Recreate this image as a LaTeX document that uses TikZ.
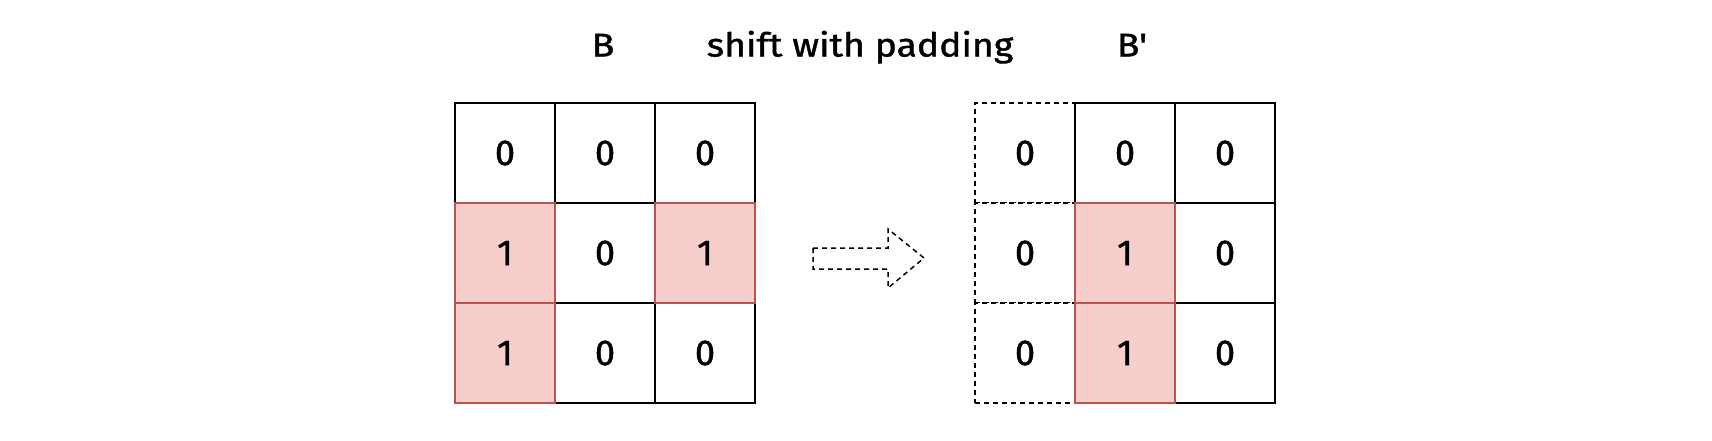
\documentclass[tikz,border=0pt]{standalone}
\usepackage{fontspec}
\setmainfont{Fira Sans}
\newfontfamily\titlefont[FakeStretch=1.13,FakeBold=1.2]{Fira Sans}
\newfontfamily\cellfont[FakeBold=1.2]{Fira Sans}
\definecolor{pinkfill}{HTML}{F8CECC}
\definecolor{reddraw}{HTML}{B85450}
\begin{document}
\begin{tikzpicture}[x=1pt,y=-1pt,
  cell/.style={draw=black,line width=1.5pt,minimum size=100pt,inner sep=0pt,font=\cellfont\fontsize{36}{38}\selectfont,anchor=center,fill=white},
  hot/.style={cell,draw=reddraw,fill=pinkfill},
  pad/.style={cell,dashed,dash pattern=on 5pt off 4pt},
  title/.style={font=\titlefont\fontsize{33}{36}\selectfont,inner sep=0pt,anchor=base}]
\useasboundingbox (0,0) rectangle (1712,440);
% left grid B
\node[cell] (a00) at (505,153) {0};
\node[cell] (a01) at (605,153) {0};
\node[cell] (a02) at (705,153) {0};
\node[cell] (a11) at (605,253) {0};
\node[cell] (a21) at (605,353) {0};
\node[cell] (a22) at (705,353) {0};
\node[hot] (a10) at (505,253) {1};
\node[hot] (a12) at (705,253) {1};
\node[hot] (a20) at (505,353) {1};
% right grid B'
\node[pad] (b00) at (1025,153) {0};
\node[pad] (b10) at (1025,253) {0};
\node[pad] (b20) at (1025,353) {0};
\node[cell] (b01) at (1125,153) {0};
\node[cell] (b02) at (1225,153) {0};
\node[cell] (b12) at (1225,253) {0};
\node[cell] (b22) at (1225,353) {0};
\node[hot] (b11) at (1125,253) {1};
\node[hot] (b21) at (1125,353) {1};
% titles
\node[title] (tB) at (603,56.5) {B};
\node[title] (tshift) at (860,56.5) {shift with padding};
\node[title] (tBp) at (1132,56.5) {B\symbol{"0027}};
% hollow dashed arrow
\draw[line width=1.5pt,dash pattern=on 5pt off 4pt,line join=miter]
  (813,248) -- (888,248) -- (888,229) -- (924,258) -- (888,288) -- (888,269) -- (813,269) -- cycle;
\end{tikzpicture}
\end{document}
